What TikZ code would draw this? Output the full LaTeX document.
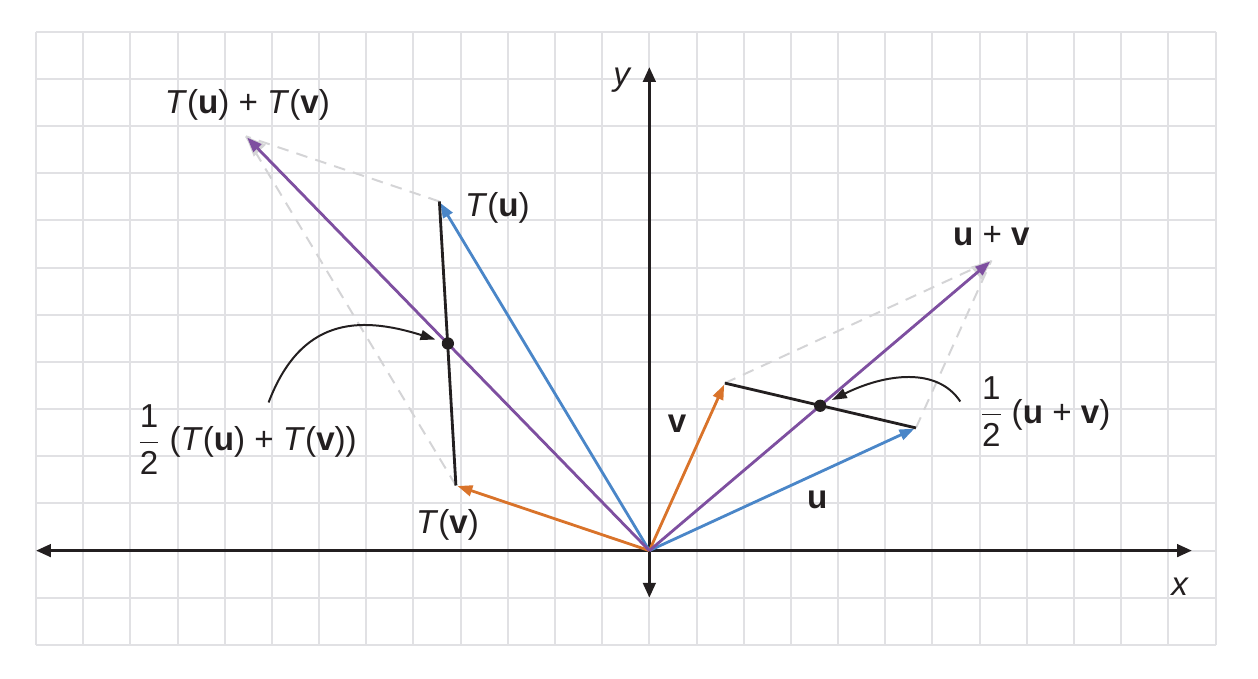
\documentclass[tikz,border=0pt]{standalone}
\usepackage{fontspec}
\setmainfont{Liberation Sans}
\usepackage{tikz}
\usetikzlibrary{arrows.meta, positioning}
\definecolor{vecblue}{RGB}{74,134,200}
\definecolor{vecorange}{RGB}{217,115,42}
\definecolor{vecpurple}{RGB}{126,79,160}
\definecolor{gridgray}{RGB}{225,225,228}
\definecolor{ghostgray}{RGB}{212,212,214}
\definecolor{ink}{RGB}{35,31,32}
\tikzstyle{gridline} = [draw=gridgray, line width=1.2pt]
\tikzstyle{axis} = [
  draw=ink, line width=1.9pt,
  {Triangle[length=9pt,width=7.5pt]}-{Triangle[length=9pt,width=7.5pt]}
]
\tikzstyle{vec} = [line width=1.7pt, -{Triangle[length=9pt,width=6.5pt]}, shorten >=1pt]
\tikzstyle{ghost} = [draw=ghostgray, line width=1.2pt, dash pattern=on 7pt off 5pt]
\tikzstyle{ghostvec} = [ghost, -{Triangle[length=12pt,width=10pt]}]
\tikzstyle{chord} = [draw=ink, line width=1.7pt]
\tikzstyle{dot} = [circle, fill=ink, inner sep=0pt, minimum size=0.26cm]
\tikzstyle{lbl} = [text=ink, font=\fontsize{20}{24}\selectfont, inner sep=0pt]
\tikzstyle{pointer} = [draw=ink, line width=1.2pt, -{Triangle[length=9pt,width=6pt]}, shorten >=4pt]
\newcommand{\half}{$\displaystyle\frac{\mbox{1}}{\mbox{2}}$}

\begin{document}
\begin{tikzpicture}
  \useasboundingbox (-13.763,-2.71) rectangle (12.90,11.67);

  % Grid
  \draw[gridline] (-13,-2) grid (12,11);

  % Points
  \coordinate (O) at (0,0);
  \coordinate (u) at (5.65,2.6);
  \coordinate (v) at (1.6,3.55);
  \coordinate (uv) at (7.25,6.15);
  \coordinate (Tu) at (-4.45,7.4);
  \coordinate (Tv) at (-4.1,1.38);
  \coordinate (TuTv) at (-8.55,8.78);

  % Parallelograms
  \draw[ghost] (v) -- (uv);
  \draw[ghost] (u) -- (uv);
  \draw[ghost] (Tu) -- (TuTv);
  \draw[ghost] (Tv) -- (TuTv);
  \draw[ghostvec] (O) -- (uv);
  \draw[ghostvec] (O) -- (TuTv);

  % Axes
  \coordinate (xl) at (-13,0);
  \coordinate (xr) at (11.5,0);
  \coordinate (yb) at (0,-1);
  \coordinate (yt) at (0,10.25);
  \draw[axis] (xl) -- (xr);
  \draw[axis] (yb) -- (yt);

  % Vectors
  \draw[vec, vecblue] (O) -- (u);
  \draw[vec, vecorange] (O) -- (v);
  \draw[vec, vecblue] (O) -- (Tu);
  \draw[vec, vecorange] (O) -- (Tv);
  \draw[vec, vecpurple] (O) -- (uv);
  \draw[vec, vecpurple] (O) -- (TuTv);

  % Chords and midpoints
  \draw[chord] (v) -- (u);
  \draw[chord] (Tu) -- (Tv);
  \node[dot] (midUV) at (3.62,3.07) {};
  \node[dot] (midT) at (-4.27,4.39) {};

  % Labels
  \node[lbl] (ylab) at (-0.57,9.98) {\textit{y}};
  \node[lbl] (xlab) at (11.25,-0.76) {\textit{x}};
  \node[lbl] (ulab) at (3.56,1.08) {\textbf{u}};
  \node[lbl] (vlab) at (0.59,2.69) {\textbf{v}};
  \node[lbl] (uvlab) at (7.25,6.67) {\textbf{u} + \textbf{v}};
  \node[lbl] (Tulab) at (-3.22,7.27) {\textit{T}(\textbf{u})};
  \node[lbl] (Tvlab) at (-4.28,0.55) {\textit{T}(\textbf{v})};
  \node[lbl] (TuTvlab) at (-8.52,9.45) {\textit{T}(\textbf{u}) + \textit{T}(\textbf{v})};
  \node[lbl] (halfUV) at (8.39,2.94) {\half\ (\textbf{u} + \textbf{v})};
  \node[lbl] (halfT) at (-8.52,2.35) {\half\ (\textit{T}(\textbf{u}) + \textit{T}(\textbf{v}))};

  % Pointers
  \coordinate (lhook) at (-8.07,3.14);
  \coordinate (rhook) at (6.59,3.16);
  \draw[pointer] (lhook) .. controls (-7.4,4.9) and (-6.2,5.0) .. (midT);
  \draw[pointer] (rhook) .. controls (6.1,3.9) and (5.0,3.75) .. (midUV);

\end{tikzpicture}
\end{document}
